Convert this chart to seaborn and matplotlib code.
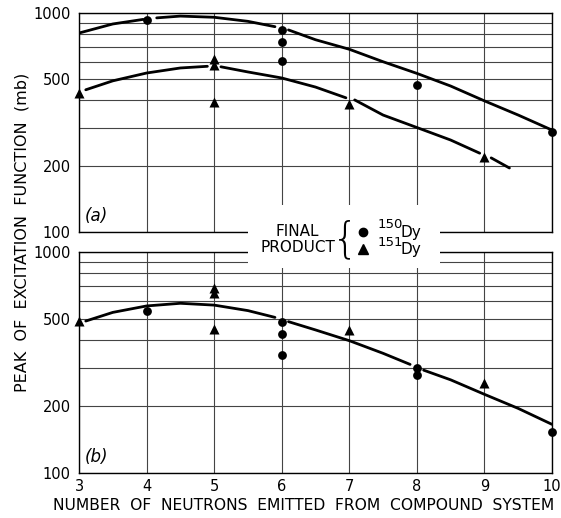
import numpy as np
import pandas as pd
import matplotlib
matplotlib.use("Agg")
import matplotlib.pyplot as plt
import seaborn as sns
from matplotlib.patches import Rectangle
from matplotlib.lines import Line2D

# ---------------- data ----------------
x_ticks = [3, 4, 5, 6, 7, 8, 9, 10]
y_major = [100, 200, 500, 1000]
y_major_labels = ["100", "200", "500", "1000"]
y_minor = [300, 400, 600, 700, 800, 900]

# panel (a) measured points
a_150_n = [4, 6, 6, 6, 8, 10]
a_150_s = [926, 836, 740, 605, 469, 285]
a_151_n = [3, 5, 5, 5, 7, 9]
a_151_s = [431, 616, 581, 391, 383, 220]

# panel (b) measured points
b_150_n = [4, 6, 6, 6, 8, 8, 10]
b_150_s = [541, 482, 424, 341, 298, 277, 153]
b_151_n = [3, 5, 5, 5, 7, 9]
b_151_s = [489, 685, 654, 447, 442, 256]

# hand-drawn curves, seg = broken pieces
a_c150_n = [3.0, 3.5, 3.95, 4.15, 4.5, 5.0, 5.5, 5.9, 6.1, 6.5, 7.0, 7.5, 8.0, 8.5, 9.0, 9.5, 10.0]
a_c150_s = [810, 891, 935, 950, 968, 956, 916, 866, 837, 755, 683, 599, 530, 464, 397, 342, 292]
a_c150_g = [0, 0, 0, 1, 1, 1, 1, 1, 2, 2, 2, 2, 2, 2, 2, 2, 2]

a_c151_n = [3.1, 3.5, 4.0, 4.5, 4.9, 5.1, 5.5, 6.0, 6.5, 6.95, 7.08, 7.5, 8.0, 8.5, 8.93, 9.1, 9.37]
a_c151_s = [446, 490, 532, 561, 571, 568, 538, 505, 459, 410, 401, 342, 300, 263, 229, 218, 196]
a_c151_g = [0, 0, 0, 0, 0, 1, 1, 1, 1, 1, 2, 2, 2, 2, 2, 3, 3]

b_c_n = [3.1, 3.5, 4.0, 4.5, 5.0, 5.5, 5.9, 6.1, 6.5, 7.0, 7.5, 7.9, 8.1, 8.5, 9.0, 9.5, 10.0]
b_c_s = [487, 533, 570, 586, 575, 543, 506, 484, 444, 397, 348, 310, 292, 264, 227, 196, 166]
b_c_g = [0, 0, 0, 0, 0, 0, 0, 1, 1, 1, 1, 1, 2, 2, 2, 2, 2]

# ---------------- style ----------------
sns.set_style("white")
plt.rcParams["font.family"] = ["DejaVu Sans"]
plt.rcParams["text.color"] = "black"
plt.rcParams["xtick.color"] = "black"
plt.rcParams["ytick.color"] = "black"
plt.rcParams["axes.labelcolor"] = "black"

W, H = 561, 518
fig = plt.figure(figsize=(W / 100, H / 100), dpi=100)


def fx(x):
    return x / W


def fy(y):
    return 1 - y / H


ax_a = fig.add_axes([fx(79), fy(232), fx(552) - fx(79), fy(13) - fy(232)])
ax_b = fig.add_axes([fx(79), fy(473), fx(552) - fx(79), fy(252) - fy(473)])

grid_kw = dict(color="#444444", lw=0.8)


def draw_panel(ax, p150n, p150s, p151n, p151s, curves, label):
    for cn, cs, cg in curves:
        cdf = pd.DataFrame({"n": cn, "sigma": cs, "seg": cg})
        sns.lineplot(data=cdf, x="n", y="sigma", units="seg", estimator=None,
                     sort=False, color="black", lw=2.0, ax=ax, zorder=3)
    d150 = pd.DataFrame({"n": p150n, "sigma": p150s})
    d151 = pd.DataFrame({"n": p151n, "sigma": p151s})
    sns.scatterplot(data=d150, x="n", y="sigma", marker="o", color="black",
                    s=40, edgecolor="black", linewidth=0, ax=ax, zorder=4,
                    clip_on=False, legend=False)
    sns.scatterplot(data=d151, x="n", y="sigma", marker="^", color="black",
                    s=52, edgecolor="black", linewidth=0, ax=ax, zorder=4,
                    clip_on=False, legend=False)
    ax.set_yscale("log")
    ax.set_xlim(3, 10)
    ax.set_ylim(100, 1000)
    ax.set_xticks(x_ticks)
    ax.set_yticks(y_major)
    ax.set_yticklabels(y_major_labels)
    ax.set_yticks(y_minor, minor=True)
    ax.yaxis.set_minor_formatter(matplotlib.ticker.NullFormatter())
    ax.grid(True, which="major", axis="both", **grid_kw)
    ax.grid(True, which="minor", axis="y", **grid_kw)
    ax.tick_params(which="both", length=0, labelsize=10.5, pad=6,
                   labelcolor="black")
    for sp in ax.spines.values():
        sp.set_color("black")
        sp.set_linewidth(1.0)
    ax.set_xlabel("")
    ax.set_ylabel("")
    ax.text(0.012, 0.03, label, transform=ax.transAxes, fontsize=12,
            style="italic", ha="left", va="bottom", color="black")


draw_panel(ax_a, a_150_n, a_150_s, a_151_n, a_151_s,
           [(a_c150_n, a_c150_s, a_c150_g), (a_c151_n, a_c151_s, a_c151_g)], "(a)")
draw_panel(ax_b, b_150_n, b_150_s, b_151_n, b_151_s,
           [(b_c_n, b_c_s, b_c_g)], "(b)")
ax_a.tick_params(axis="x", labelbottom=False)
ax_b.tick_params(axis="x", pad=4)

# axis titles
fig.text(fx(304), fy(506), "NUMBER  OF  NEUTRONS  EMITTED  FROM  COMPOUND  SYSTEM",
         ha="center", va="center", fontsize=11.2, color="black")
fig.text(fx(22), fy(232), "PEAK  OF  EXCITATION  FUNCTION  (mb)", rotation=90,
         ha="center", va="center", fontsize=11.5, color="black")

# legend box (white patch hiding grid)
fig.add_artist(Rectangle((fx(248), fy(268)), fx(440) - fx(248), fy(205) - fy(268),
                         transform=fig.transFigure, facecolor="white",
                         edgecolor="none", zorder=10))
fig.text(fx(297), fy(232), "FINAL", ha="center", va="center", fontsize=11, zorder=11)
fig.text(fx(298), fy(248), "PRODUCT", ha="center", va="center", fontsize=11, zorder=11)
fig.text(fx(345), fy(240), "{", ha="center", va="center", fontsize=30,
         zorder=11, fontweight="light")
fig.add_artist(Line2D([fx(363)], [fy(232)], marker="o", color="black", ms=6,
                      lw=0, transform=fig.transFigure, zorder=11))
fig.add_artist(Line2D([fx(363)], [fy(249)], marker="^", color="black", ms=7,
                      lw=0, transform=fig.transFigure, zorder=11))
fig.text(fx(378), fy(225), "150", ha="left", va="center", fontsize=9.5, zorder=11)
fig.text(fx(401), fy(233), "Dy", ha="left", va="center", fontsize=11, zorder=11)
fig.text(fx(378), fy(242), "151", ha="left", va="center", fontsize=9.5, zorder=11)
fig.text(fx(401), fy(250), "Dy", ha="left", va="center", fontsize=11, zorder=11)

fig.savefig("out.png", dpi=100)
